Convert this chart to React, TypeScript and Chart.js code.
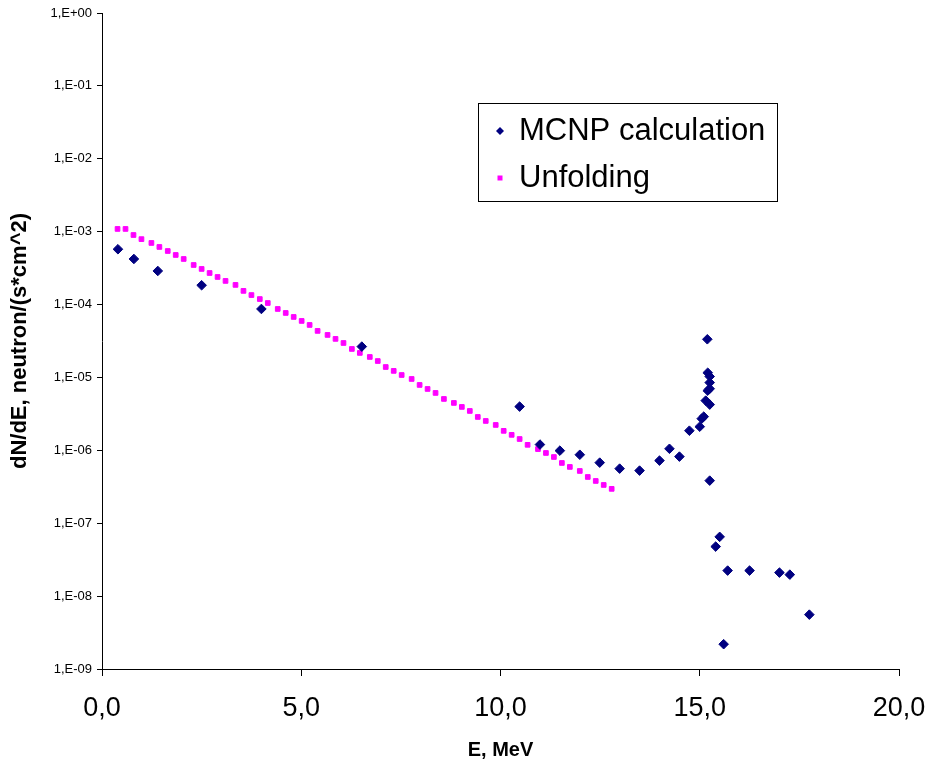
import React, { useEffect, useRef } from "react";
import { Chart, registerables } from "chart.js";

Chart.register(...registerables);

// Unfolding spectrum (E in MeV, dN/dE)
const unfoldE = [
  0.39, 0.59, 0.79, 0.99, 1.24, 1.44, 1.65, 1.85, 2.05, 2.30, 2.50, 2.70, 2.90, 3.10, 3.35,
  3.55, 3.75, 3.96, 4.16, 4.41, 4.61, 4.81, 5.01, 5.21, 5.41, 5.66, 5.86, 6.06, 6.27, 6.47,
  6.72, 6.92, 7.12, 7.32, 7.52, 7.77, 7.97, 8.17, 8.37, 8.58, 8.83, 9.03, 9.23, 9.43, 9.63,
  9.88, 10.08, 10.28, 10.48, 10.68, 10.94, 11.14, 11.34, 11.54, 11.74, 11.99, 12.19, 12.39, 12.59, 12.79,
];
const unfoldY = [
  1.09e-3, 1.09e-3, 9.0e-4, 7.9e-4, 7.0e-4, 6.17e-4, 5.43e-4, 4.79e-4, 4.22e-4, 3.49e-4,
  3.08e-4, 2.71e-4, 2.39e-4, 2.11e-4, 1.86e-4, 1.54e-4, 1.35e-4, 1.19e-4, 1.05e-4, 8.7e-5,
  7.67e-5, 6.76e-5, 5.96e-5, 5.25e-5, 4.35e-5, 3.83e-5, 3.38e-5, 2.97e-5, 2.46e-5, 2.17e-5,
  1.91e-5, 1.68e-5, 1.39e-5, 1.23e-5, 1.08e-5, 9.53e-6, 7.89e-6, 6.95e-6, 6.13e-6, 5.07e-6,
  4.47e-6, 3.94e-6, 3.47e-6, 2.87e-6, 2.53e-6, 2.23e-6, 1.85e-6, 1.63e-6, 1.43e-6, 1.19e-6,
  1.04e-6, 9.2e-7, 8.1e-7, 6.71e-7, 5.92e-7, 5.21e-7, 4.31e-7, 3.8e-7, 3.35e-7, 2.96e-7,
];

// MCNP calculation
const mcnpE = [
  0.4, 0.8, 1.4, 2.5, 4.0, 6.52, 10.48, 10.99, 11.49, 11.99, 12.49, 12.99, 13.49, 13.99,
  14.24, 14.49, 14.74, 15.0, 15.05, 15.1, 15.15, 15.25, 15.2, 15.25, 15.25, 15.25, 15.2,
  15.19, 15.25, 15.5, 15.4, 15.7, 16.25, 17.0, 17.26, 17.75, 15.6,
];
const mcnpY = [
  5.74e-4, 4.22e-4, 2.89e-4, 1.84e-4, 8.7e-5, 2.65e-5, 3.98e-6, 1.2e-6, 9.9e-7, 8.7e-7,
  6.78e-7, 5.61e-7, 5.27e-7, 7.23e-7, 1.05e-6, 8.2e-7, 1.86e-6, 2.11e-6, 2.72e-6, 2.9e-6,
  4.81e-6, 4.24e-6, 6.59e-6, 7.0e-6, 8.5e-6, 1.03e-5, 1.16e-5, 3.34e-5, 3.84e-7, 6.5e-8,
  4.78e-8, 2.24e-8, 2.24e-8, 2.1e-8, 1.97e-8, 5.57e-9, 2.19e-9,
];

const yTickValues = [1e-9, 1e-8, 1e-7, 1e-6, 1e-5, 1e-4, 1e-3, 1e-2, 1e-1, 1];
const xTickValues = [0, 5, 10, 15, 20];

const FONT = "'Liberation Sans', Arial, sans-serif";

function fmtY(v: number): string {
  const e = Math.round(Math.log10(v));
  const a = Math.abs(e);
  return "1,E" + (e >= 0 ? "+" : "-") + (a < 10 ? "0" + a : String(a));
}

const boxLegend = {
  id: "boxLegend",
  afterDraw(chart: any) {
    const ctx = chart.ctx;
    ctx.save();
    const x0 = 478.5, y0 = 103.5, w = 299, h = 98;
    ctx.fillStyle = "#ffffff";
    ctx.fillRect(x0, y0, w, h);
    ctx.strokeStyle = "#000000";
    ctx.lineWidth = 1;
    ctx.strokeRect(x0, y0, w, h);
    const rows = [131, 178];
    chart.data.datasets.forEach((ds: any, i: number) => {
      const cy = rows[i];
      const cx = 500;
      ctx.fillStyle = ds.backgroundColor;
      ctx.beginPath();
      if (ds.pointStyle === "rectRot") {
        const r = 4;
        ctx.moveTo(cx, cy - r);
        ctx.lineTo(cx + r, cy);
        ctx.lineTo(cx, cy + r);
        ctx.lineTo(cx - r, cy);
        ctx.closePath();
      } else {
        ctx.rect(cx - 2.5, cy - 2.5, 5, 5);
      }
      ctx.fill();
      ctx.fillStyle = "#000000";
      ctx.font = "31px " + FONT;
      ctx.textAlign = "left";
      ctx.textBaseline = "alphabetic";
      ctx.fillText(ds.label, 519, cy + 9);
    });
    ctx.restore();
  },
};

export default function App() {
  const ref = useRef<HTMLCanvasElement | null>(null);
  useEffect(() => {
    if (!ref.current) return;
    const chart = new Chart(ref.current, {
      type: "scatter",
      data: {
        datasets: [
          {
            label: "MCNP calculation",
            data: mcnpE.map((e, i) => ({ x: e, y: mcnpY[i] })),
            pointStyle: "rectRot",
            pointRadius: 4.8,
            pointHoverRadius: 4.8,
            backgroundColor: "#000080",
            borderColor: "#000080",
            borderWidth: 1,
          },
          {
            label: "Unfolding",
            data: unfoldE.map((e, i) => ({ x: e, y: unfoldY[i] })),
            pointStyle: "rect",
            pointRadius: 3.3,
            pointHoverRadius: 3.3,
            backgroundColor: "#FF00FF",
            borderColor: "#FF00FF",
            borderWidth: 1,
          },
        ],
      },
      options: {
        responsive: false,
        animation: false,
        layout: { padding: { left: 0, right: 29, top: 13, bottom: 0 } },
        plugins: { legend: { display: false }, tooltip: { enabled: false } },
        scales: {
          x: {
            type: "linear",
            min: 0,
            max: 20,
            afterBuildTicks: (s: any) => {
              s.ticks = xTickValues.map((v) => ({ value: v }));
            },
            afterFit: (s: any) => {
              s.height = 95;
              s.paddingLeft = 0;
              s.paddingRight = 0;
            },
            ticks: {
              color: "#000",
              font: { family: FONT, size: 27 },
              padding: 16,
              maxRotation: 0,
              callback: (v: any) => Number(v).toFixed(1).replace(".", ","),
            },
            grid: { display: true, drawOnChartArea: false, drawTicks: true, tickLength: 7, color: "#000" },
            border: { display: true, color: "#000", width: 1 },
            title: {
              display: true,
              text: "E, MeV",
              color: "#000",
              font: { family: FONT, size: 20, weight: "bold" },
              padding: { top: 0, bottom: 2 },
            },
          },
          y: {
            type: "logarithmic",
            min: 1e-9,
            max: 1,
            afterBuildTicks: (s: any) => {
              s.ticks = yTickValues.map((v) => ({ value: v }));
            },
            afterFit: (s: any) => {
              s.width = 102;
            },
            ticks: {
              color: "#000",
              font: { family: FONT, size: 13 },
              padding: 5,
              callback: (v: any) => fmtY(Number(v)),
            },
            grid: { display: true, drawOnChartArea: false, drawTicks: true, tickLength: 5, color: "#000" },
            border: { display: true, color: "#000", width: 1 },
            title: {
              display: true,
              text: "dN/dE, neutron/(s*cm^2)",
              color: "#000",
              font: { family: FONT, size: 22, weight: "bold" },
              padding: { top: 7, bottom: 0 },
            },
          },
        },
      },
      plugins: [boxLegend],
    } as any);
    return () => chart.destroy();
  }, []);
  return (
    <div style={{ position: "absolute", left: 0, top: 0, width: 928, height: 764, background: "#fff" }}>
      <canvas ref={ref} width={928} height={764} style={{ display: "block" }} />
    </div>
  );
}
